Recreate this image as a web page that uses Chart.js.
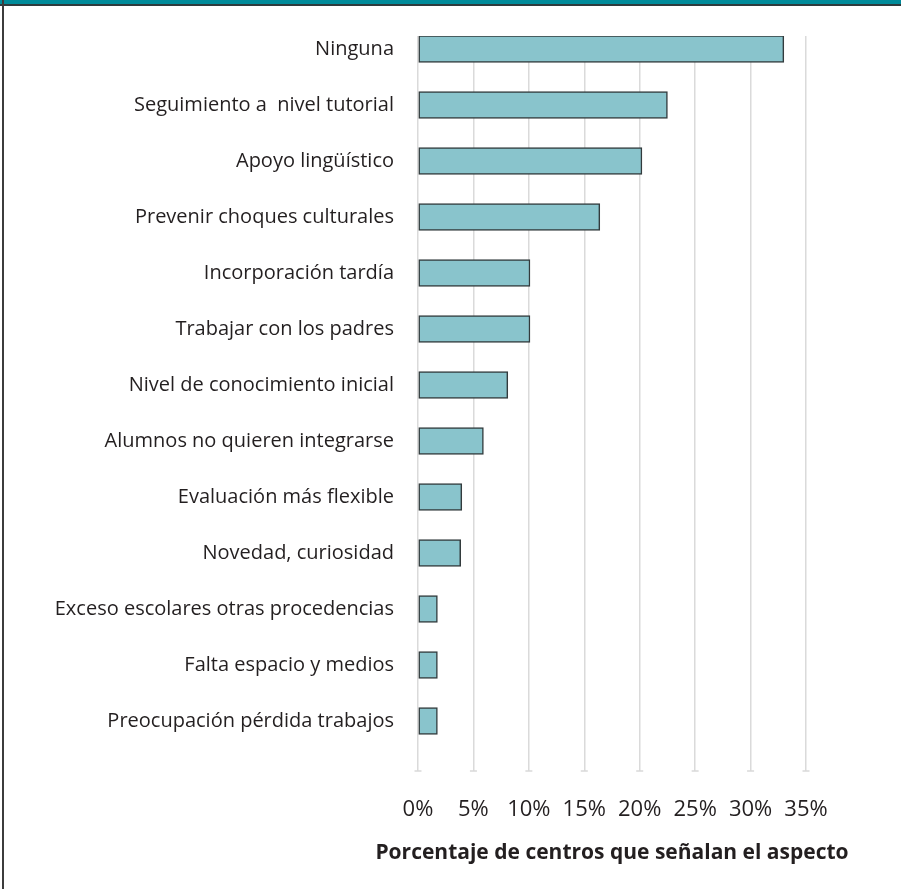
<!DOCTYPE html>
<html lang="es">
<head>
<meta charset="utf-8">
<title>Porcentaje de centros que señalan el aspecto</title>
<script src="https://cdn.jsdelivr.net/npm/chart.js@4"></script>
<style>
  html, body { margin: 0; padding: 0; background: #fff; }
  .frame { position: relative; width: 901px; height: 889px; overflow: hidden; }
  .frame .top { position: absolute; left: 0; top: 0; right: 0; height: 4px; background: #008b9a; border-bottom: 2px solid #2f3b3d; }
  .frame .side { position: absolute; left: 2px; top: 0; bottom: 0; width: 2px; background: #3c3c3c; }
  canvas { position: absolute; left: 0; top: 0; }
</style>
</head>
<body>
<div class="frame">
  <div class="top"></div>
  <div class="side"></div>
  <canvas id="chart" width="901" height="889"></canvas>
</div>
<script>
const aspectos = [
  "Ninguna",
  "Seguimiento a  nivel tutorial",
  "Apoyo lingüístico",
  "Prevenir choques culturales",
  "Incorporación tardía",
  "Trabajar con los padres",
  "Nivel de conocimiento inicial",
  "Alumnos no quieren integrarse",
  "Evaluación más flexible",
  "Novedad, curiosidad",
  "Exceso escolares otras procedencias",
  "Falta espacio y medios",
  "Preocupación pérdida trabajos"
]

const porcentajes = [33.0, 22.5, 20.2, 16.4, 10.1, 10.1, 8.1, 5.9, 3.95, 3.85, 1.75, 1.75, 1.75]

const xTicks = [0, 5, 10, 15, 20, 25, 30, 35]

const xTitle = "Porcentaje de centros que señalan el aspecto"

const textColor = "#231f20"
const fontFamily = "'Open Sans', 'Noto Sans', sans-serif"

// small horizontal caps at the foot of every vertical gridline
const gridCaps = {
  id: "gridCaps",
  beforeDatasetsDraw(chart){
    const { ctx, chartArea, scales } = chart
    ctx.save()
    ctx.strokeStyle = "#d9d9d9"
    ctx.lineWidth = 1.5
    xTicks.forEach(v => {
      const x = scales.x.getPixelForValue(v)
      ctx.beginPath()
      ctx.moveTo(x - 3.5, chartArea.bottom)
      ctx.lineTo(x + 3.5, chartArea.bottom)
      ctx.stroke()
    })
    ctx.restore()
  }
}

// the built-in scale title gets squeezed to the plot width, so draw it here
const axisTitle = {
  id: "axisTitle",
  afterDraw(chart){
    const { ctx, chartArea, scales } = chart
    ctx.save()
    ctx.fillStyle = textColor
    ctx.font = `bold 21px ${fontFamily}`
    ctx.textAlign = "center"
    ctx.textBaseline = "middle"
    ctx.fillText(xTitle, (chartArea.left + chartArea.right) / 2, scales.x.bottom - 36)
    ctx.restore()
  }
}

const ctx = document.getElementById("chart").getContext("2d")

new Chart(ctx, {
  type: "bar",
  data: {
    datasets: [{
      data: porcentajes.map((value, index) => ({ x: value, y: index })),
      backgroundColor: "#89c4cc",
      borderColor: "#333b3d",
      borderWidth: 1.5,
      borderSkipped: false,
      barThickness: 27
    }]
  },
  options: {
    indexAxis: "y",
    responsive: false,
    animation: false,
    layout: { padding: { top: 36, right: 95, bottom: 0, left: 0 } },
    plugins: { legend: { display: false }, tooltip: { enabled: false } },
    scales: {
      x: {
        type: "linear",
        min: 0,
        max: 35,
        border: { display: false },
        grid: { color: "#dadada", lineWidth: 1.5, drawTicks: false },
        ticks: {
          stepSize: 5,
          padding: 26,
          color: textColor,
          font: { family: fontFamily, size: 22 },
          callback: v => v + "%"
        },
        afterFit: scale => { scale.height = 118 }
      },
      y: {
        type: "linear",
        reverse: true,
        offset: false,
        min: -0.232,
        max: 12.893,
        border: { display: false },
        grid: { display: false },
        ticks: {
          stepSize: 1,
          autoSkip: false,
          includeBounds: false,
          padding: 16,
          color: textColor,
          font: { family: fontFamily, size: 20 },
          callback: v => aspectos[v] ?? ""
        },
        afterFit: scale => { scale.width = 418 }
      }
    }
  },
  plugins: [gridCaps, axisTitle]
})
</script>
</body>
</html>
